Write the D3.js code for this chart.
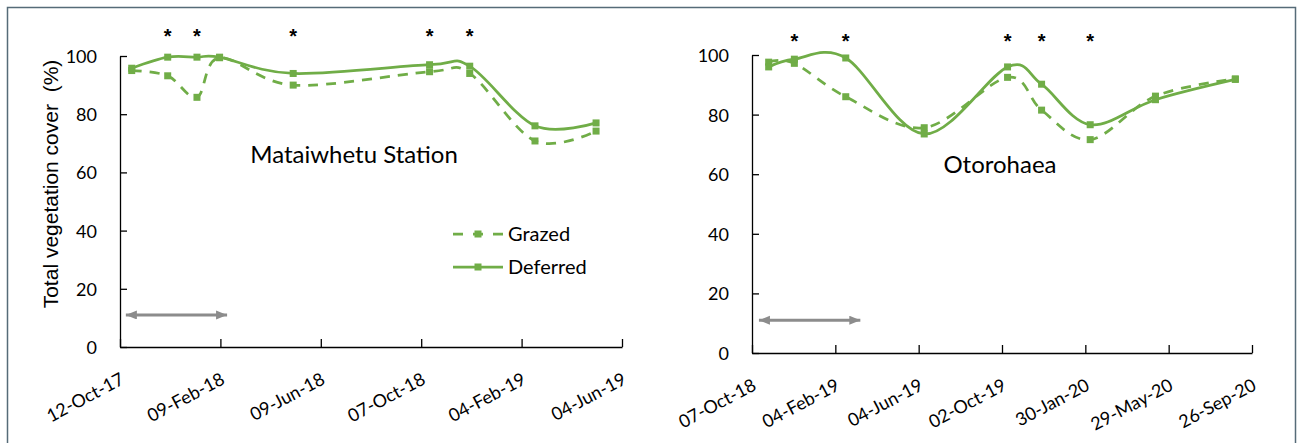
<!DOCTYPE html>
<html>
<head>
<meta charset="utf-8">
<script src="https://d3js.org/d3.v7.min.js"></script>
<style>
  html, body { margin: 0; padding: 0; background: #fff; }
  svg { display: block; }
  .axis path, .axis line { stroke: #000; stroke-width: 1.3; }
  .axis text { font-family: Lato, "Open Sans", sans-serif; font-size: 18px; fill: #000; }
</style>
</head>
<body>
<svg id="chart" width="1297" height="443"></svg>
<script>
// Mataiwhetu Station
var mataDates = ["2017-10-26", "2017-12-08", "2018-01-12", "2018-02-08", "2018-05-07",
                 "2018-10-17", "2018-12-04", "2019-02-20", "2019-05-04"];
var mataGrazed = [95.0, 93.2, 85.8, 99.4, 90.0, 94.6, 94.0, 70.8, 74.2];
var mataDeferred = [95.8, 99.6, 99.6, 99.6, 94.0, 97.0, 96.5, 76.0, 77.0];
var mataStars = ["2017-12-08", "2018-01-12", "2018-05-07", "2018-10-17", "2018-12-04"];
var mataTicks = ["2017-10-12", "2018-02-09", "2018-06-09", "2018-10-07", "2019-02-04", "2019-06-04"];
var mataDeferPeriod = ["2017-10-19", "2018-02-17"];

// Otorohaea
var otoDates = ["2018-10-31", "2018-12-07", "2019-02-19", "2019-06-12", "2019-10-10",
                "2019-11-28", "2020-02-06", "2020-05-10", "2020-09-02"];
var otoGrazed = [97.6, 97.2, 86.0, 75.6, 92.5, 81.5, 71.6, 86.2, 92.0];
var otoDeferred = [96.0, 98.6, 99.0, 73.5, 96.0, 90.2, 76.6, 85.0, 91.8];
var otoStars = ["2018-12-07", "2019-02-19", "2019-10-10", "2019-11-28", "2020-02-06"];
var otoTicks = ["2018-10-07", "2019-02-04", "2019-06-04", "2019-10-02", "2020-01-30", "2020-05-29", "2020-09-26"];
var otoDeferPeriod = ["2018-10-17", "2019-03-12"];

var yTicks = [0, 20, 40, 60, 80, 100];
var seriesNames = ["Grazed", "Deferred"];

var green = "#70ad47";
var parse = d3.timeParse("%Y-%m-%d");
var fmt = d3.timeFormat("%d-%b-%y");

var svg = d3.select("#chart");

// outer frame
svg.append("rect")
  .attr("x", 7.5).attr("y", 7.5)
  .attr("width", 1288).attr("height", 445)
  .attr("fill", "none")
  .attr("stroke", "#566b78")
  .attr("stroke-width", 1.5);

// arrow head
var defs = svg.append("defs");
defs.append("marker")
  .attr("id", "head")
  .attr("markerUnits", "userSpaceOnUse")
  .attr("markerWidth", 12).attr("markerHeight", 10)
  .attr("refX", 11).attr("refY", 4.5)
  .attr("orient", "auto-start-reverse")
  .append("path")
  .attr("d", "M0,0 L11,4.5 L0,9 Z")
  .attr("fill", "#8c8c8c");

function drawPanel(p) {
  var dates = p.dates.map(parse);
  var ticks = p.ticks.map(parse);
  var x = d3.scaleTime().domain([ticks[0], ticks[ticks.length - 1]]).range([p.left, p.right]);
  var y = d3.scaleLinear().domain([0, 100]).range([p.bottom, p.top]);
  var g = svg.append("g");

  // axes
  var xAxis = d3.axisBottom(x).tickValues(ticks).tickFormat(fmt)
    .tickSizeInner(-8).tickSizeOuter(0);
  var ax = g.append("g").attr("class", "axis")
    .attr("transform", "translate(0," + p.bottom + ")")
    .call(xAxis);
  ax.selectAll(".tick text")
    .attr("x", 0).attr("y", 0).attr("dy", 0)
    .attr("text-anchor", "end")
    .attr("transform", "translate(5,36) rotate(-28)");

  var yAxis = d3.axisLeft(y).tickValues(yTicks)
    .tickSizeInner(-7).tickSizeOuter(0).tickPadding(23);
  g.append("g").attr("class", "axis")
    .attr("transform", "translate(" + p.left + ",0)")
    .call(yAxis)
    .selectAll(".tick text").attr("dy", "0.36em");
  g.selectAll(".axis").attr("font-family", null).attr("font-size", null);

  // lines
  var series = [
    {name: "Grazed", values: p.grazed, dash: "10,8"},
    {name: "Deferred", values: p.deferred, dash: null}
  ];
  series.forEach(function(s) {
    var pts = s.values.map(function(v, i) { return {d: dates[i], v: v}; });
    var line = d3.line().curve(d3.curveCardinal)
      .x(function(d) { return x(d.d); })
      .y(function(d) { return y(d.v); });
    g.append("path").datum(pts)
      .attr("d", line)
      .attr("fill", "none")
      .attr("stroke", green)
      .attr("stroke-width", 2.75)
      .attr("stroke-dasharray", s.dash);
    g.selectAll(null).data(pts).enter().append("rect")
      .attr("x", function(d) { return x(d.d) - 3.5; })
      .attr("y", function(d) { return y(d.v) - 3.5; })
      .attr("width", 7).attr("height", 7)
      .attr("fill", green);
  });

  // significance stars
  g.selectAll(null).data(p.stars.map(parse)).enter().append("text")
    .attr("x", function(d) { return x(d); })
    .attr("y", p.starY)
    .attr("text-anchor", "middle")
    .attr("font-family", "Liberation Sans, Arial, sans-serif")
    .attr("font-weight", "bold")
    .attr("font-size", 20)
    .text("*");

  // deferment period arrow
  g.append("line")
    .attr("x1", x(parse(p.period[0]))).attr("x2", x(parse(p.period[1])))
    .attr("y1", y(11)).attr("y2", y(11))
    .attr("stroke", "#8c8c8c")
    .attr("stroke-width", 3)
    .attr("marker-start", "url(#head)")
    .attr("marker-end", "url(#head)");

  // site title
  g.append("text")
    .attr("x", p.titleX).attr("y", p.titleY)
    .attr("text-anchor", "middle")
    .attr("font-family", "Lato, sans-serif")
    .attr("font-size", 24)
    .attr("fill", "#000")
    .text(p.title);

  return {x: x, y: y, g: g};
}

drawPanel({
  dates: mataDates, grazed: mataGrazed, deferred: mataDeferred,
  stars: mataStars, ticks: mataTicks, period: mataDeferPeriod,
  left: 120, right: 622, top: 56, bottom: 347, starY: 43,
  title: "Mataiwhetu Station", titleX: 354, titleY: 163
});

drawPanel({
  dates: otoDates, grazed: otoGrazed, deferred: otoDeferred,
  stars: otoStars, ticks: otoTicks, period: otoDeferPeriod,
  left: 752, right: 1252, top: 55, bottom: 353, starY: 47.5,
  title: "Otorohaea", titleX: 1000, titleY: 173
});

// y axis title
svg.append("text")
  .attr("transform", "translate(58,184) rotate(-90)")
  .attr("text-anchor", "middle")
  .attr("font-family", "Liberation Sans, Arial, sans-serif")
  .attr("font-size", 21)
  .attr("fill", "#000")
  .attr("xml:space", "preserve")
  .text("Total vegetation cover  (%)");

// legend
var legend = svg.append("g").attr("transform", "translate(453,234)");
seriesNames.forEach(function(name, i) {
  var row = legend.append("g").attr("transform", "translate(0," + (i * 33) + ")");
  row.append("line")
    .attr("x1", 0).attr("x2", 50)
    .attr("stroke", green).attr("stroke-width", 2.75)
    .attr("stroke-dasharray", name === "Grazed" ? "10,10" : null);
  row.append("rect")
    .attr("x", 21.5).attr("y", -3.5).attr("width", 7).attr("height", 7)
    .attr("fill", green);
  row.append("text")
    .attr("x", 55).attr("y", 0).attr("dy", "0.36em")
    .attr("font-family", "Lato, sans-serif")
    .attr("font-size", 20)
    .attr("fill", "#000")
    .text(name);
});
</script>
</body>
</html>
